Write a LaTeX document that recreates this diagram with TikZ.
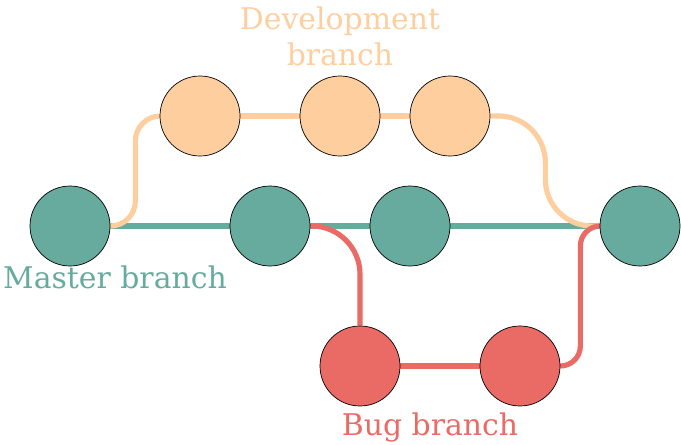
\documentclass[tikz,border=0pt]{standalone}
\usepackage{fontspec}
\setmainfont{DejaVu Serif}
\usepackage{tikz}
\usetikzlibrary{positioning,backgrounds}
\definecolor{gitteal}{HTML}{67AB9F}
\definecolor{gitpeach}{HTML}{FFCE9F}
\definecolor{gitred}{HTML}{EA6B66}
\tikzstyle{commit} = [circle, minimum size=2.4cm, inner sep=0pt, draw=black, line width=0.6pt]
\tikzstyle{branch} = [line width=4.4pt]
\tikzstyle{label} = [font=\fontsize{25.5}{30.5}\selectfont, align=center, inner sep=0pt]

\begin{document}
\begin{tikzpicture}[x=0.03cm, y=-0.03cm]
\useasboundingbox (0,0) rectangle (681,444);
% Commits
\node[commit, fill=gitteal] (m1) at (70,226) {};
\node[commit, fill=gitteal] (m2) at (270,226) {};
\node[commit, fill=gitteal] (m3) at (410,226) {};
\node[commit, fill=gitteal] (m4) at (640,226) {};
\node[commit, fill=gitpeach] (d1) at (200,116) {};
\node[commit, fill=gitpeach] (d2) at (340,116) {};
\node[commit, fill=gitpeach] (d3) at (450,116) {};
\node[commit, fill=gitred] (b1) at (360,366) {};
\node[commit, fill=gitred] (b2) at (520,366) {};

% Labels
\node[label, text=gitpeach] (devname) at (340,36) {Development\\branch};
\node[label, text=gitteal] (mastername) at (115,277) {Master branch};
\node[label, text=gitred] (bugname) at (430,427) {Bug branch};

% Branch lines
\begin{scope}[on background layer]
\draw[branch, gitteal] (m1.east) -- (m4.west);
\draw[branch, gitpeach, rounded corners=0.75cm] (m1.east) -- ++(25,0) |- (d1.west);
\draw[branch, gitpeach] (d1) -- (d2) -- (d3);
\draw[branch, gitpeach, rounded corners=1.4cm] (d3.east) -- ++(55,0) |- (m4.west);
\draw[branch, gitred, rounded corners=1.45cm] (m2.east) -| (b1.north);
\draw[branch, gitred] (b1) -- (b2);
\draw[branch, gitred, rounded corners=0.6cm] (b2.east) -- ++(20,0) |- (m4.west);
\end{scope}
\end{tikzpicture}
\end{document}
